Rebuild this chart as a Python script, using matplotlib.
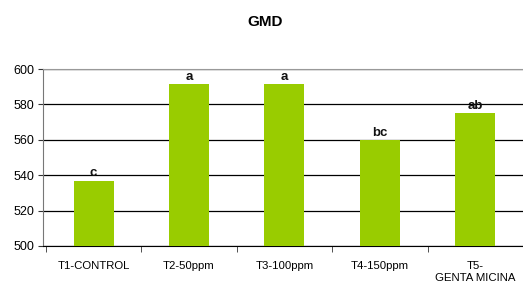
import matplotlib
matplotlib.use("Agg")
import matplotlib.pyplot as plt

# data
categories = ["T1-CONTROL", "T2-50ppm", "T3-100ppm", "T4-150ppm", "T5-\nGENTA MICINA"]
values = [537, 591.3, 591.3, 560, 575]
letters = ["c", "a", "a", "bc", "ab"]

plt.rcParams["font.family"] = ["Liberation Sans", "DejaVu Sans"]

W, H = 523, 285
fig = plt.figure(figsize=(W / 100, H / 100), dpi=100)
# axes box in pixels: left 43, top 69, bottom 246, 96 px per category
ax = fig.add_axes([43 / W, 1 - 246 / H, 480 / W, (246 - 69) / H])

x = range(len(categories))
ax.bar(x, values, width=0.42, color="#99CC00", zorder=3)

for xi, v, lab in zip(x, values, letters):
    ax.text(xi, v + 2.4, lab, ha="center", va="baseline", fontsize=9.5,
            fontweight="bold", color="#111111", zorder=4)

ax.set_ylim(500, 600)
ax.set_xlim(-0.53, len(categories) - 0.53)
ax.set_yticks(range(500, 601, 20))
ax.yaxis.grid(True, color="black", linewidth=0.9, zorder=0)
ax.set_axisbelow(True)

ax.set_xticks(list(x))
ax.set_xticklabels(categories, fontsize=8.2, linespacing=1.35)
ax.tick_params(axis="x", length=0, pad=10.5)
# small tick marks between categories
ax.set_xticks([i + 0.5 for i in range(-1, len(categories))], minor=True)
ax.tick_params(axis="x", which="minor", length=4, direction="out", color="#333333")
ax.tick_params(axis="y", length=3.6, direction="out", labelsize=9, pad=2.8, color="#333333")

ax.spines["top"].set_color("#999999")
ax.spines["right"].set_visible(False)
ax.spines["left"].set_color("#777777")
ax.spines["bottom"].set_color("black")

fig.text(265.5 / W, 1 - 22 / H, "GMD", ha="center", va="center",
         fontsize=11, fontweight="bold")

fig.savefig("out.png", dpi=100)
